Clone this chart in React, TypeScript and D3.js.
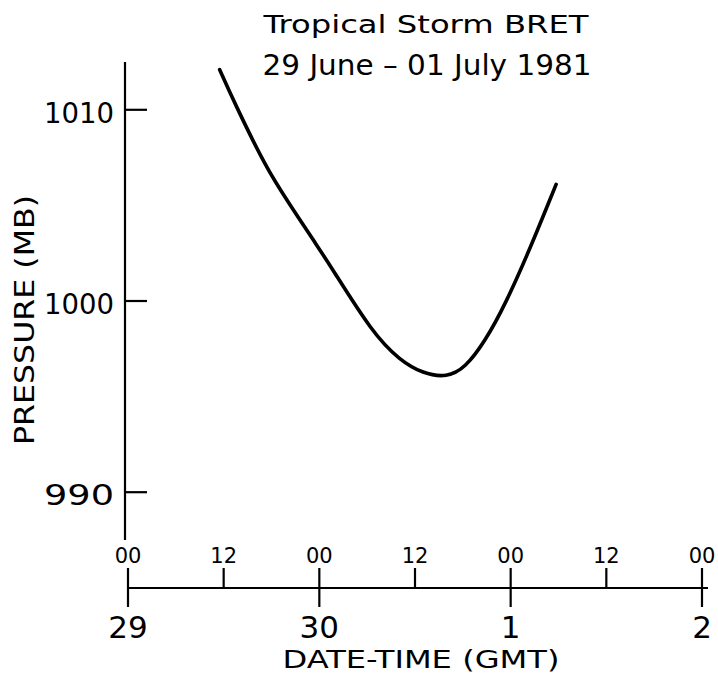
import React, { useEffect, useRef } from 'react';
import * as d3 from 'd3';

// hours since 29 June 00 GMT, and pressure
const hours = [11.5, 13.2, 17.4, 19.9, 23.7, 25.3, 30.7, 34.1, 37.0, 40.0, 42.3, 44.8, 47.3, 50.4, 53.7];
const pressure = [1012.1, 1010.5, 1006.9, 1005.3, 1002.9, 1001.9, 998.3, 996.9, 996.2, 996.0, 996.5, 997.9, 999.8, 1002.7, 1006.1];

const yTicks = [990, 1000, 1010];
const hourTicks = [0, 12, 24, 36, 48, 60, 72];
const hourLabels = ['00', '12', '00', '12', '00', '12', '00'];
const dayTicks = [0, 24, 48, 72];
const dayLabels = ['29', '30', '1', '2'];

const titleLines = ['Tropical Storm BRET', '29 June – 01 July 1981'];

const FONT = 'DejaVu Sans, sans-serif';

const App: React.FC = () => {
  const ref = useRef<SVGSVGElement>(null);

  useEffect(() => {
    const svg = d3.select(ref.current);
    svg.selectAll('*').remove();

    const x = d3.scaleLinear().domain([0, 72]).range([128, 702]);
    const y = d3.scaleLinear().domain([987.5, 1012.5]).range([540, 62]);
    const xAxisY = 588;

    // y axis
    svg.append('line')
      .attr('x1', 125).attr('x2', 125)
      .attr('y1', y(1012.5)).attr('y2', y(987.5))
      .attr('stroke', '#000').attr('stroke-width', 2.2);

    svg.selectAll('.ytick').data(yTicks).enter().append('line')
      .attr('x1', 125).attr('x2', 147)
      .attr('y1', (d) => y(d)).attr('y2', (d) => y(d))
      .attr('stroke', '#000').attr('stroke-width', 2.2);

    svg.selectAll('.ylab').data(yTicks).enter().append('text')
      .attr('x', 114).attr('y', (d) => y(d) + 13)
      .attr('text-anchor', 'end')
      .attr('font-family', FONT).attr('font-size', 29)
      .attr('textLength', 70).attr('lengthAdjust', 'spacingAndGlyphs')
      .text((d) => d);

    svg.append('text')
      .attr('transform', `translate(34, 320) rotate(-90)`)
      .attr('text-anchor', 'middle')
      .attr('font-family', FONT).attr('font-size', 26)
      .attr('textLength', 250).attr('lengthAdjust', 'spacingAndGlyphs')
      .text('PRESSURE (MB)');

    // x axis
    svg.append('line')
      .attr('x1', x(0)).attr('x2', x(72) + 6)
      .attr('y1', xAxisY).attr('y2', xAxisY)
      .attr('stroke', '#000').attr('stroke-width', 2.2);

    svg.selectAll('.xtick').data(hourTicks).enter().append('line')
      .attr('x1', (d) => x(d)).attr('x2', (d) => x(d))
      .attr('y1', xAxisY - 20)
      .attr('y2', (d) => (dayTicks.includes(d) ? xAxisY + 19 : xAxisY))
      .attr('stroke', '#000').attr('stroke-width', 2.2);

    svg.selectAll('.hlab').data(hourTicks).enter().append('text')
      .attr('x', (d) => x(d)).attr('y', 563)
      .attr('text-anchor', 'middle')
      .attr('font-family', FONT).attr('font-size', 21)
      .text((d, i) => hourLabels[i]);

    svg.selectAll('.dlab').data(dayTicks).enter().append('text')
      .attr('x', (d) => x(d)).attr('y', 638)
      .attr('text-anchor', 'middle')
      .attr('font-family', FONT).attr('font-size', 31)
      .text((d, i) => dayLabels[i]);

    svg.append('text')
      .attr('x', 421).attr('y', 668)
      .attr('text-anchor', 'middle')
      .attr('font-family', FONT).attr('font-size', 25)
      .attr('textLength', 277).attr('lengthAdjust', 'spacingAndGlyphs')
      .text('DATE-TIME (GMT)');

    // title
    svg.append('text')
      .attr('x', 426).attr('y', 33)
      .attr('text-anchor', 'middle')
      .attr('font-family', FONT).attr('font-size', 25)
      .attr('textLength', 325).attr('lengthAdjust', 'spacingAndGlyphs')
      .text(titleLines[0]);
    svg.append('text')
      .attr('x', 427).attr('y', 75)
      .attr('text-anchor', 'middle')
      .attr('font-family', FONT).attr('font-size', 29)
      .attr('textLength', 329).attr('lengthAdjust', 'spacingAndGlyphs')
      .text(titleLines[1]);

    // pressure trace
    const pts: [number, number][] = hours.map((h, i) => [h, pressure[i]]);
    const line = d3.line<[number, number]>()
      .x((d) => x(d[0]))
      .y((d) => y(d[1]))
      .curve(d3.curveBasis);

    svg.append('path')
      .attr('d', line(pts))
      .attr('fill', 'none')
      .attr('stroke', '#000')
      .attr('stroke-width', 3.6)
      .attr('stroke-linecap', 'round');
  }, []);

  return (
    <svg
      ref={ref}
      width={718}
      height={681}
      style={{ position: 'absolute', left: 0, top: 0, background: '#fff' }}
    ></svg>
  );
};

export default App;
